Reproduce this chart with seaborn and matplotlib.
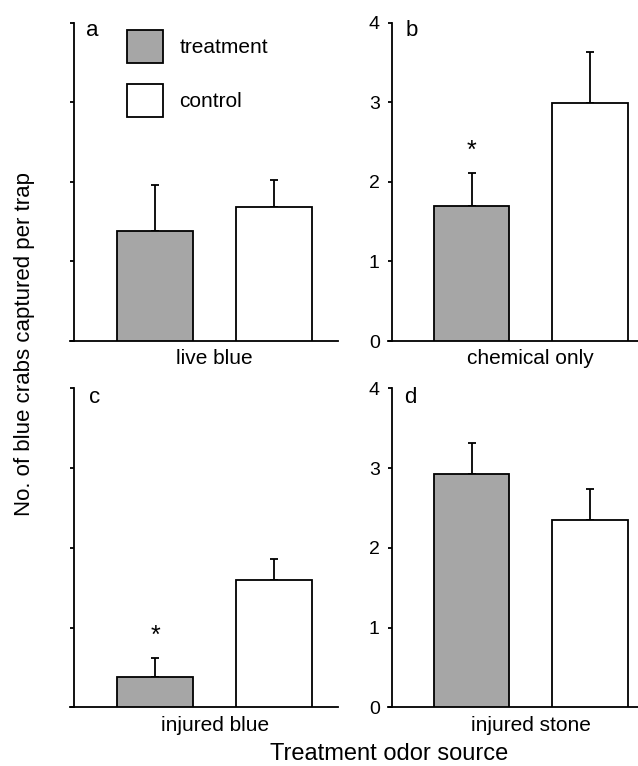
import matplotlib
matplotlib.use("Agg")
import matplotlib.pyplot as plt
import matplotlib.patches as mpatches
import seaborn as sns
import pandas as pd

# ---- data ----
categories = ["live blue", "chemical only", "injured blue", "injured stone"]
panel_letters = ["a", "b", "c", "d"]
groups = ["treatment", "control"]
treatment_mean = [1.38, 1.70, 0.38, 2.92]
treatment_se = [0.58, 0.41, 0.24, 0.40]
control_mean = [1.68, 2.99, 1.59, 2.35]
control_se = [0.34, 0.64, 0.27, 0.39]
significant = [False, True, True, False]
y_ticks = [0, 1, 2, 3, 4]

sns.set_theme(style="white")
plt.rcParams["font.family"] = ["Liberation Sans", "DejaVu Sans"]
plt.rcParams["text.color"] = "black"
plt.rcParams["axes.labelcolor"] = "black"
plt.rcParams["xtick.color"] = "black"
plt.rcParams["ytick.color"] = "black"

rows = []
for i, c in enumerate(categories):
    rows.append({"source": c, "group": "treatment", "mean": treatment_mean[i], "se": treatment_se[i]})
    rows.append({"source": c, "group": "control", "mean": control_mean[i], "se": control_se[i]})
df = pd.DataFrame(rows)

palette = {"treatment": "#a6a6a6", "control": "#ffffff"}

fig = plt.figure(figsize=(6.38, 7.66), dpi=100)
W, H = 638, 766

def px_axes(x0, x1, ytop, ybot):
    return fig.add_axes([x0 / W, 1 - ybot / H, (x1 - x0) / W, (ybot - ytop) / H])

ax_boxes = [
    (70, 338, 22.7, 341),
    (387.7, 640, 22.7, 341),
    (70, 338, 388.3, 707.3),
    (387.7, 640, 388.3, 707.3),
]
xlims = [(-0.488, 0.416), (-0.4825, 0.368), (-0.488, 0.416), (-0.4825, 0.368)]
letter_pos = [(0.06, 0.958), (0.069, 0.958), (0.072, 0.953), (0.065, 0.953)]

LW = 1.3
for i, cat in enumerate(categories):
    ax = px_axes(*ax_boxes[i])
    sub = df[df["source"] == cat]
    sns.barplot(data=sub, x="source", y="mean", hue="group", hue_order=groups,
                palette=palette, edgecolor="black", linewidth=LW, gap=0.36,
                width=0.8, errorbar=None, legend=False, ax=ax, zorder=3)
    for k, g in enumerate(groups):
        bar = ax.containers[k].patches[0]
        xc = bar.get_x() + bar.get_width() / 2
        m = sub[sub["group"] == g]["mean"].values[0]
        s = sub[sub["group"] == g]["se"].values[0]
        ax.errorbar([xc], [m], yerr=[[0], [s]], fmt="none", ecolor="black",
                    elinewidth=LW, capsize=2.6, capthick=LW, zorder=2)
        if g == "treatment" and significant[i]:
            ax.text(xc, m + s + 0.28, "*", ha="center", va="center",
                    fontsize=18, color="black")
    ax.set_ylim(0, 4)
    ax.set_xlim(*xlims[i])
    ax.set_yticks(y_ticks)
    ax.set_xlabel("")
    ax.set_ylabel("")
    sns.despine(ax=ax)
    for sp in ["left", "bottom"]:
        ax.spines[sp].set_linewidth(LW)
        ax.spines[sp].set_color("black")
    ax.spines["left"].set_position(("outward", -3.2))
    ax.tick_params(axis="y", direction="out", length=3, width=LW, color="black",
                   labelcolor="black", labelsize=14, pad=6, left=True,
                   labelleft=(i % 2 == 1))
    ax.tick_params(axis="x", length=0, pad=6, labelsize=15, labelcolor="black")
    ax.text(letter_pos[i][0], letter_pos[i][1], panel_letters[i],
            transform=ax.transAxes, fontsize=16, ha="left", va="baseline",
            color="black")
    if i == 0:
        handles = [mpatches.Patch(facecolor=palette[g], edgecolor="black",
                                  linewidth=LW, label=g) for g in groups]
        ax.legend(handles=handles, loc="upper left",
                  bbox_to_anchor=(0.2116, 0.978), frameon=False, fontsize=15,
                  handlelength=1.73, handleheight=2.06, handletextpad=0.8,
                  labelspacing=1.0, borderpad=0, borderaxespad=0,
                  labelcolor="black")

fig.text(25 / W, 1 - 344 / H, "No. of blue crabs captured per trap",
         rotation=90, ha="center", va="center", fontsize=16, color="black")
fig.text(389.5 / W, 1.5 / H, "Treatment odor source",
         ha="center", va="bottom", fontsize=17, color="black")

fig.savefig("out.png", dpi=100)
